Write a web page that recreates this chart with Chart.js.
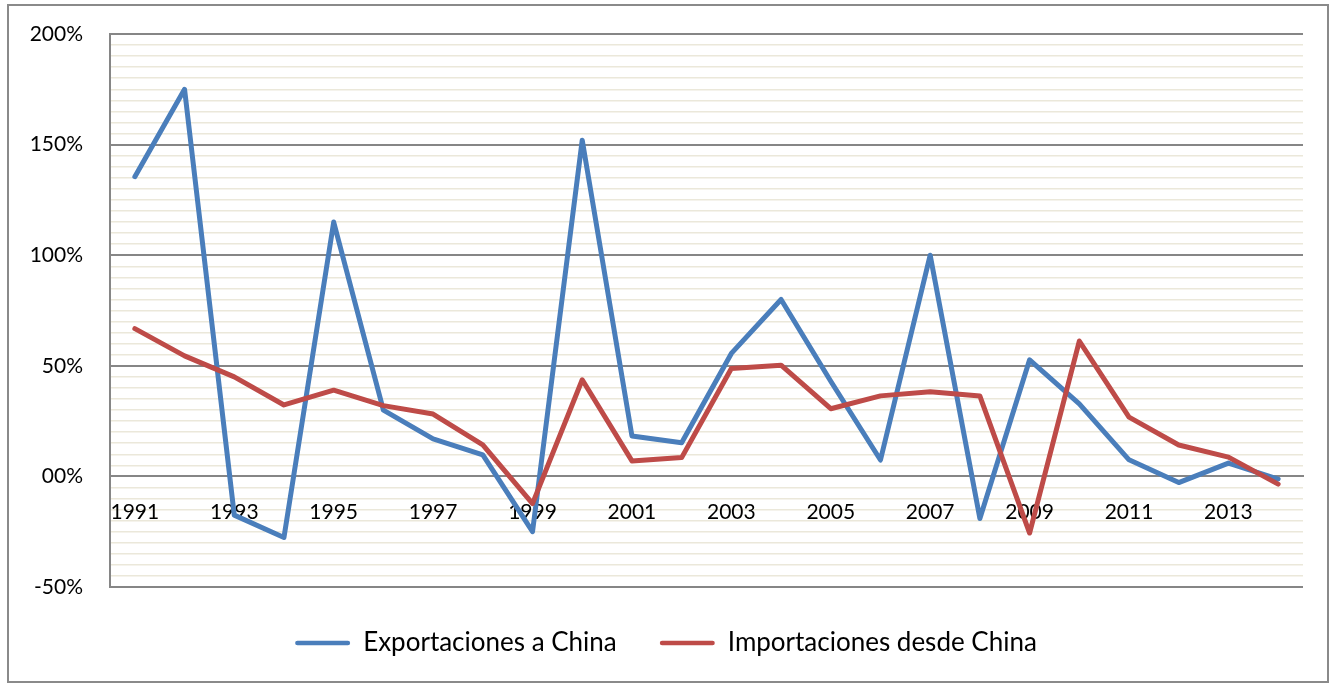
<!DOCTYPE html>
<html>
<head>
<meta charset="utf-8">
<script src="https://cdn.jsdelivr.net/npm/chart.js@4"></script>
<style>
  body { margin: 0; background: #fff; }
  #wrap {
    position: absolute; left: 7px; top: 4px;
    width: 1318px; height: 675px;
    border: 2px solid #8a8a8a;
  }
</style>
</head>
<body>
<div id="wrap"><canvas id="chart" width="1318" height="675"></canvas></div>
<script>
const years = ['1991', '1992', '1993', '1994', '1995', '1996', '1997', '1998', '1999', '2000', '2001', '2002',
  '2003', '2004', '2005', '2006', '2007', '2008', '2009', '2010', '2011', '2012', '2013', '2014'];

// % change per year
const exportsToChina = [135.5, 175, -17.5, -27.6, 115, 30, 17, 9.7, -25, 152, 18.3, 15.2,
  55.6, 80, 43, 7.4, 100, -19, 52.7, 32.8, 7.5, -2.8, 6, -1.2];
const importsFromChina = [66.8, 54.5, 45, 32.3, 39, 32, 28.2, 14.2, -12.3, 43.7, 7, 8.5,
  48.8, 50.3, 30.6, 36.4, 38.3, 36.3, -25.6, 61.2, 26.8, 14.2, 8.7, -3.5];

const seriesNames = ['Exportaciones a China', 'Importaciones desde China'];
const seriesColors = ['#4a7ebb', '#be4b48'];

const yMin = -50;
const yMax = 200;
const yMajor = 50;
const yMinor = 5;

const font = { family: 'Lato', size: 21 };

new Chart(document.getElementById('chart'), {
  type: 'line',
  data: {
    labels: years,
    datasets: [
      {
        label: seriesNames[0],
        data: exportsToChina,
        borderColor: seriesColors[0],
        backgroundColor: seriesColors[0],
        order: 1
      },
      {
        label: seriesNames[1],
        data: importsFromChina,
        borderColor: seriesColors[1],
        backgroundColor: seriesColors[1],
        order: 0
      }
    ]
  },
  options: {
    responsive: false,
    animation: false,
    elements: {
      line: { borderWidth: 5, tension: 0, borderJoinStyle: 'round', borderCapStyle: 'round' },
      point: { radius: 0, hoverRadius: 0 }
    },
    layout: { padding: { top: 28, left: 20, right: 24, bottom: 15 } },
    scales: {
      x: {
        position: { y: 0 },
        offset: true,
        grid: { display: false, drawTicks: false },
        border: { display: true, color: '#868686', width: 2 },
        ticks: {
          autoSkip: false,
          maxRotation: 0,
          padding: 23,
          color: '#000',
          font: font,
          callback: function (value, index) {
            return index % 2 === 0 ? this.getLabelForValue(value) : '';
          }
        },
        // the axis sits on the 0% line, so it takes no room below the plot
        afterFit: (scale) => {
          scale.height = 0;
          scale.paddingLeft = 0;
          scale.paddingRight = 0;
        }
      },
      y: {
        min: yMin,
        max: yMax,
        grid: {
          drawTicks: false,
          color: (ctx) => ctx.tick && ctx.tick.value % yMajor === 0 ? '#868686' : '#ebe8da',
          lineWidth: (ctx) => ctx.tick && ctx.tick.value % yMajor === 0 ? 2 : 1.5
        },
        border: { display: true, color: '#868686', width: 2 },
        ticks: {
          stepSize: yMinor,
          autoSkip: false,
          padding: 27,
          color: '#000',
          font: font,
          callback: (value) => {
            if (value % yMajor !== 0) return '';
            return value === 0 ? '00%' : value + '%';
          }
        },
        afterFit: (scale) => {
          scale.width = 81;
          scale.paddingTop = 0;
          scale.paddingBottom = 0;
        }
      }
    },
    plugins: {
      tooltip: { enabled: false },
      legend: {
        position: 'bottom',
        labels: {
          color: '#000',
          font: { family: 'Lato', size: 26 },
          boxWidth: 55,
          boxHeight: 4.5,
          padding: 43,
          useBorderRadius: true,
          borderRadius: 2.25,
          sort: (a, b) => a.datasetIndex - b.datasetIndex,
          generateLabels: (chart) =>
            Chart.defaults.plugins.legend.labels.generateLabels(chart).map(item => ({ ...item, lineWidth: 0 }))
        }
      }
    }
  }
});
</script>
</body>
</html>
